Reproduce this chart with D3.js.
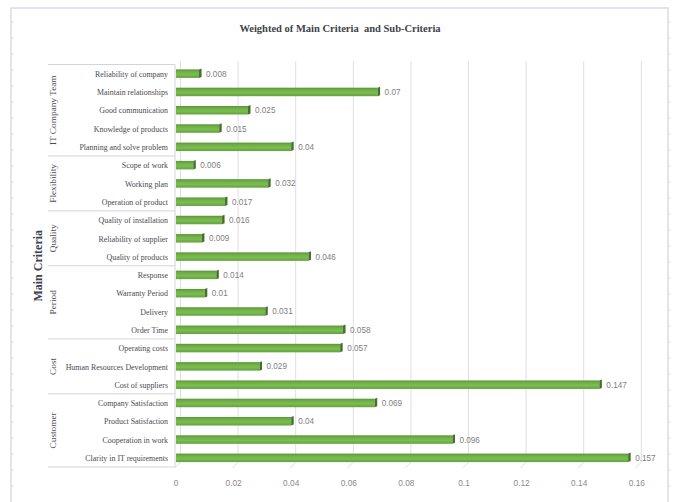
<!DOCTYPE html>
<html>
<head>
<meta charset="utf-8">
<script src="https://cdn.jsdelivr.net/npm/d3@7/dist/d3.min.js"></script>
<style>
  body { margin: 0; background: #fff; }
  svg { display: block; }
</style>
</head>
<body>
<svg id="chart" width="679" height="502"></svg>
<script>
// groups, top to bottom
const groups = ["IT Company Team", "Flexibility", "Quality", "Period", "Cost", "Customer"];
const groupSizes = [5, 3, 3, 4, 3, 4];

const subCriteria = [
    "Reliability of company", "Maintain relationships", "Good communication", "Knowledge of products", "Planning and solve problem",
    "Scope of work", "Working plan", "Operation of product",
    "Quality of installation", "Reliability of supplier", "Quality of products",
    "Response", "Warranty Period", "Delivery", "Order Time",
    "Operating costs", "Human Resources Development", "Cost of suppliers",
    "Company Satisfaction", "Product Satisfaction", "Cooperation in work", "Clarity in IT requirements"
];
const weights = [
    0.008, 0.07, 0.025, 0.015, 0.04,
    0.006, 0.032, 0.017,
    0.016, 0.009, 0.046,
    0.014, 0.01, 0.031, 0.058,
    0.057, 0.029, 0.147,
    0.069, 0.04, 0.096, 0.157
];
const xTicks = [0, 0.02, 0.04, 0.06, 0.08, 0.1, 0.12, 0.14, 0.16];

const svg = d3.select("#chart");
const W = 679, H = 502;
const depth = 4.5; // 3D offset of the back wall

// chart frame
svg.append("path")
    .attr("d", `M11,${H} V8 H668 V${H}`)
    .attr("fill", "none")
    .attr("stroke", "#dcdce4")
    .attr("stroke-width", 1.5);
// little marks along the frame sides
d3.range(22, H, 16).forEach(y => {
    svg.append("line").attr("x1", 11).attr("x2", 13.5).attr("y1", y).attr("y2", y)
        .attr("stroke", "#d6d6de");
    svg.append("line").attr("x1", 668).attr("x2", 670.5).attr("y1", y).attr("y2", y)
        .attr("stroke", "#d6d6de");
});

svg.append("text")
    .attr("x", 340).attr("y", 32)
    .attr("text-anchor", "middle")
    .attr("font-family", "Liberation Serif")
    .attr("font-weight", "bold")
    .attr("font-size", 10.5)
    .attr("fill", "#404248")
    .attr("xml:space", "preserve")
    .text("Weighted of Main Criteria  and Sub-Criteria");

const x = d3.scaleLinear().domain([0, 0.16]).range([176, 636.8]);
const y = d3.scaleBand().domain(subCriteria).range([64.5, 467]).paddingInner(0.52).paddingOuter(0.26);
const step = y.step();
const plotTop = 64.5, plotBottom = 467;

// gridlines on the back wall, with floor slant
const grid = svg.append("g");
xTicks.forEach(t => {
    const xb = x(t) + depth;
    grid.append("path")
        .attr("d", `M${xb},61 V${plotBottom - 5} L${xb - depth - 1},${plotBottom + 1}`)
        .attr("fill", "none")
        .attr("stroke", "#dedee8")
        .attr("stroke-width", 1);
});

// x axis tick labels
svg.append("g").selectAll("text")
    .data(xTicks)
    .join("text")
    .attr("x", d => x(d))
    .attr("y", 486)
    .attr("text-anchor", "middle")
    .attr("font-family", "Liberation Sans")
    .attr("font-size", 8.3)
    .attr("fill", "#8a8a8a")
    .text(d => d3.format("")(d));

// category axis box
const axisG = svg.append("g").attr("stroke", "#d4d4dc").attr("fill", "none");
axisG.append("line").attr("x1", 175).attr("x2", 175).attr("y1", plotTop).attr("y2", plotBottom);
let idx = 0;
const bounds = [0];
groupSizes.forEach(n => { idx += n; bounds.push(idx); });
bounds.forEach(b => {
    const yy = plotTop + b * step;
    axisG.append("line").attr("x1", 48).attr("x2", 175).attr("y1", yy).attr("y2", yy);
});

// group labels (vertical)
groups.forEach((g, i) => {
    const yc = plotTop + (bounds[i] + bounds[i + 1]) / 2 * step;
    svg.append("text")
        .attr("transform", `translate(56,${yc}) rotate(-90) scale(1,0.92)`)
        .attr("text-anchor", "middle")
        .attr("font-family", "Liberation Serif")
        .attr("font-size", 9.3)
        .attr("fill", "#4a4a50")
        .text(g);
});

svg.append("text")
    .attr("transform", `translate(42,${(plotTop + plotBottom) / 2}) rotate(-90)`)
    .attr("text-anchor", "middle")
    .attr("font-family", "Liberation Serif")
    .attr("font-weight", "bold")
    .attr("font-size", 12)
    .attr("fill", "#3d4250")
    .text("Main Criteria");

// sub-criteria labels
svg.append("g").selectAll("text")
    .data(subCriteria)
    .join("text")
    .attr("transform", d => `translate(168,${y(d) + y.bandwidth() / 2 + 3.2}) scale(0.9,1)`)
    .attr("text-anchor", "end")
    .attr("font-family", "Liberation Serif")
    .attr("font-size", 8.8)
    .attr("fill", "#4a4a50")
    .text(d => d);

// bar gradient
const defs = svg.append("defs");
const grad = defs.append("linearGradient").attr("id", "barGrad")
    .attr("x1", 0).attr("x2", 0).attr("y1", 0).attr("y2", 1);
grad.append("stop").attr("offset", "0%").attr("stop-color", "#5a9437");
grad.append("stop").attr("offset", "25%").attr("stop-color", "#6fae46");
grad.append("stop").attr("offset", "60%").attr("stop-color", "#7cbd52");
grad.append("stop").attr("offset", "100%").attr("stop-color", "#63a13e");

const rows = subCriteria.map((name, i) => ({ name, value: weights[i] }));
const bars = svg.append("g").selectAll("g")
    .data(rows)
    .join("g");

const bh = 8.5;
bars.append("rect")
    .attr("x", x(0))
    .attr("y", d => y(d.name) + y.bandwidth() / 2 - bh / 2)
    .attr("width", d => x(d.value) - x(0))
    .attr("height", bh)
    .attr("fill", "url(#barGrad)");

// right end face
bars.append("path")
    .attr("d", d => {
        const xe = x(d.value);
        const yt = y(d.name) + y.bandwidth() / 2 - bh / 2;
        return `M${xe},${yt} L${xe + 2.5},${yt - 1} L${xe + 2.5},${yt + bh - 1} L${xe},${yt + bh} Z`;
    })
    .attr("fill", "#43702a");

// value labels
bars.append("text")
    .attr("transform", d => `translate(${x(d.value) + 7},${y(d.name) + y.bandwidth() / 2 + 3}) scale(0.95,1)`)
    .attr("font-family", "Liberation Sans")
    .attr("font-size", 8.6)
    .attr("fill", "#808080")
    .text(d => d.value);
</script>
</body>
</html>
